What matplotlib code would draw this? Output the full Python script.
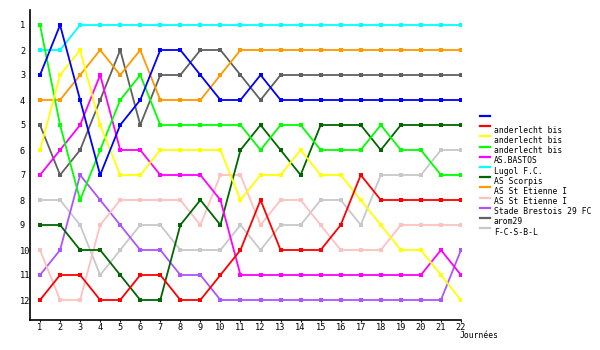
import matplotlib
matplotlib.use("Agg")
import matplotlib.pyplot as plt
from matplotlib.lines import Line2D

days = list(range(1, 23))

names = ["", "anderlecht bis", "anderlecht bis", "anderlecht bis", "AS.BASTOS",
         "Lugol F.C.", "AS Scorpis", "AS St Etienne I", "AS St Etienne I",
         "Stade Brestois 29 FC", "arom29", "F-C-S-B-L"]
colors = ["#0000ff", "#ff0000", "#ffff00", "#00ff00", "#ff00ff", "#00ffff",
          "#006600", "#ff9900", "#ffc0c0", "#aa55ff", "#606060", "#c8c8c8"]

blue     = [3, 1, 4, 7, 5, 4, 2, 2, 3, 4, 4, 3, 4, 4, 4, 4, 4, 4, 4, 4, 4, 4]
red      = [12, 11, 11, 12, 12, 11, 11, 12, 12, 11, 10, 8, 10, 10, 10, 9, 7, 8, 8, 8, 8, 8]
yellow   = [6, 3, 2, 5, 7, 7, 6, 6, 6, 6, 8, 7, 7, 6, 7, 7, 8, 9, 10, 10, 11, 12]
green    = [1, 5, 8, 6, 4, 3, 5, 5, 5, 5, 5, 6, 5, 5, 6, 6, 6, 5, 6, 6, 7, 7]
magenta  = [7, 6, 5, 3, 6, 6, 7, 7, 7, 8, 11, 11, 11, 11, 11, 11, 11, 11, 11, 11, 10, 11]
cyan     = [2, 2, 1, 1, 1, 1, 1, 1, 1, 1, 1, 1, 1, 1, 1, 1, 1, 1, 1, 1, 1, 1]
dkgreen  = [9, 9, 10, 10, 11, 12, 12, 9, 8, 9, 6, 5, 6, 7, 5, 5, 5, 6, 5, 5, 5, 5]
orange   = [4, 4, 3, 2, 3, 2, 4, 4, 4, 3, 2, 2, 2, 2, 2, 2, 2, 2, 2, 2, 2, 2]
pink     = [10, 12, 12, 9, 8, 8, 8, 8, 9, 7, 7, 9, 8, 8, 9, 10, 10, 10, 9, 9, 9, 9]
purple   = [11, 10, 7, 8, 9, 10, 10, 11, 11, 12, 12, 12, 12, 12, 12, 12, 12, 12, 12, 12, 12, 10]
dkgray   = [5, 7, 6, 4, 2, 5, 3, 3, 2, 2, 3, 4, 3, 3, 3, 3, 3, 3, 3, 3, 3, 3]
ltgray   = [8, 8, 9, 11, 10, 9, 9, 10, 10, 10, 9, 10, 9, 9, 8, 8, 9, 7, 7, 7, 6, 6]

series = [blue, red, yellow, green, magenta, cyan, dkgreen, orange, pink, purple, dkgray, ltgray]
ranks = list(range(1, 13))

W, H = 600, 350
fig = plt.figure(figsize=(6, 3.5), dpi=100)
ax = fig.add_axes([30 / W, 1 - 320 / H, (461 - 30) / W, (320 - 10) / H])

font = "DejaVu Sans Mono"
fs = 6.2
lfs = 5.8

for vals, c in reversed(list(zip(series, colors))):
    ax.plot(days, vals, color=c, lw=1.3, marker="s", markersize=2.3,
            markeredgewidth=0, solid_joinstyle="miter")

ax.set_xlim(0.5, 22)
ax.set_ylim(12.8, 0.4)
ax.set_xticks(days)
ax.set_xticklabels([str(d) for d in days], fontsize=fs, family=font)
ax.set_yticks(ranks)
ax.set_yticklabels([str(r) for r in ranks], fontsize=fs, family=font)
for lab in ax.get_yticklabels():
    lab.set_horizontalalignment("left")
ax.tick_params(axis="y", length=0, pad=7.2)
ax.tick_params(axis="x", length=1.5, pad=0.5, width=0.8)
for s in ["top", "right"]:
    ax.spines[s].set_visible(False)
for s in ["left", "bottom"]:
    ax.spines[s].set_linewidth(1.2)
ax.set_facecolor("white")

fig.text(460 / W, 1 - 336 / H, "Journées", fontsize=lfs, family=font,
         ha="left", va="center")

# legend
y0 = 116
dy = 10.2
for i, (nm, c) in enumerate(zip(names, colors)):
    yl = y0 + i * dy
    fig.add_artist(Line2D([480 / W, 490 / W], [1 - yl / H, 1 - yl / H],
                          color=c, lw=1.6, transform=fig.transFigure))
    fig.text(494 / W, 1 - (yl + 4) / H, nm, fontsize=lfs, family=font,
             ha="left", va="center")

fig.savefig("out.png", dpi=100)
